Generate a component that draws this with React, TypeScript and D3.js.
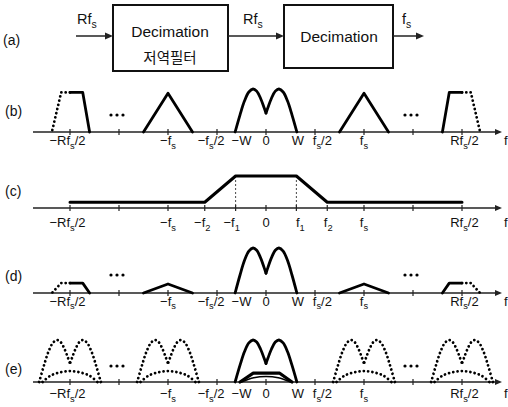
import React from "react";
import * as d3 from "d3";

// ---------- data (frequency in units of fs/2, amplitude relative) ----------
const axisTicks = [-4, -3, -2, -1, 0, 1, 2, 3, 4];
const labelPosMain = [-4.05, -2, -1.12, -0.5, 0, 0.65, 1.15, 2, 4.05];
const labelTextMain = ["−Rf_s/2", "−f_s", "−f_s/2", "−W", "0", "W", "f_s/2", "f_s", "Rf_s/2"];

const ticksC = [-4, -3, -2, -1.25, -0.62, 0, 0.62, 1.25, 2, 3, 4];
const labelPosC = [-4.05, -2, -1.3, -0.7, 0, 0.7, 1.27, 2, 4.05];
const labelTextC = ["−Rf_s/2", "−f_s", "−f_2", "−f_1", "0", "f_1", "f_2", "f_s", "Rf_s/2"];

// M-shaped baseband spectrum (left half, mirrored for right half)
const mHalfU = [-0.63, -0.53, -0.44, -0.35, -0.265, -0.19, -0.11, -0.04, 0];
const mHalfA = [0, 0.4, 0.72, 0.93, 1, 0.95, 0.78, 0.57, 0.44];
// triangle image
const triU = [-0.5, 0, 0.5];
const triA = [0, 1, 0];
// edge image at ±Rfs/2 (offsets from ±4, for the right side)
const edgeSolidU = [-0.4, -0.26, 0];
const edgeSolidA = [0, 1, 1];
const edgeDotU = [0, 0.18, 0.37];
const edgeDotA = [1, 1, 0];
// filter response (c)
const filterF = [-4, -1.25, -0.62, 0.62, 1.25, 4];
const filterA = [0.18, 0.18, 1, 1, 0.18, 0.18];
const cutoffF = [-0.62, 0.62];
// (e) small aliased humps and baseband residues
const smallHumpU = [-0.56, -0.4, -0.2, 0, 0.2, 0.4, 0.56];
const smallHumpA = [0, 0.15, 0.23, 0.26, 0.23, 0.15, 0];
const baseTrapU = [-0.53, -0.26, 0.28, 0.53];
const baseTrapA = [0, 0.21, 0.21, 0];
const baseLensU = [-0.5, -0.25, 0, 0.25, 0.5];
const baseLensA = [0, 0.1, 0.13, 0.1, 0];

const triCentersB = [-2, 2];
const triAmpB = 0.9;
const edgeAmpB = 0.92;
const triAmpD = 0.2;
const edgeAmpD = 0.22;
const aliasCentersE = [-4, -2, 2, 4];
const ellipsisCenters = [-3, 3];

// ---------- layout ----------
const FONT = "'Liberation Sans', Arial, Helvetica, sans-serif";
const x = d3.scaleLinear().domain([-4, 4]).range([70, 462]);
const AX0 = 33;
const AX1 = 502;

type Pt = [number, number];
const zip = (u: number[], a: number[], c = 0, s = 1, amp = 1): Pt[] =>
  u.map((v, i) => [c + s * v, a[i] * amp]);

function Lbl({ x, y, text, size = 13, anchor = "middle", weight = "normal" }: any) {
  const parts: { t: string; sub: boolean }[] = [];
  let buf = "";
  for (let i = 0; i < text.length; i++) {
    if (text[i] === "_" && i + 1 < text.length) {
      if (buf) parts.push({ t: buf, sub: false });
      buf = "";
      parts.push({ t: text[i + 1], sub: true });
      i++;
    } else buf += text[i];
  }
  if (buf) parts.push({ t: buf, sub: false });
  const sh = size * 0.28;
  let prevSub = false;
  return (
    <text x={x} y={y} textAnchor={anchor} fontSize={size} fontFamily={FONT} fontWeight={weight} fill="#111">
      {parts.map((p, i) => {
        let dy = 0;
        if (p.sub && !prevSub) dy = sh;
        if (!p.sub && prevSub) dy = -sh;
        prevSub = p.sub;
        return (
          <tspan key={i} dy={dy} fontSize={p.sub ? size * 0.72 : size}>
            {p.t}
          </tspan>
        );
      })}
    </text>
  );
}

function Panel({ axisY, ticks, children, labelPos, labelText, labelDy, name, nameY }: any) {
  return (
    <g>
      <line x1={AX0} x2={AX1 - 5} y1={axisY} y2={axisY} stroke="#222" strokeWidth={1.3} />
      <path d={`M${AX1},${axisY} L${AX1 - 7},${axisY - 3} L${AX1 - 7},${axisY + 3} Z`} fill="#222" />
      {ticks.map((t: number, i: number) => (
        <line key={i} x1={x(t)} x2={x(t)} y1={axisY - 3} y2={axisY + 3} stroke="#222" strokeWidth={1.2} />
      ))}
      {labelPos.map((p: number, i: number) => (
        <Lbl key={i} x={x(p)} y={axisY + labelDy} text={labelText[i]} />
      ))}
      <Lbl x={AX1 + 2} y={axisY + labelDy} text="f" anchor="start" />
      <text x={5} y={nameY} fontSize={14} fontFamily={FONT} fill="#111">
        {name}
      </text>
      {children}
    </g>
  );
}

const solid = { fill: "none", stroke: "#000", strokeWidth: 2.8, strokeLinejoin: "round" as const, strokeLinecap: "round" as const };
const dotted = { fill: "none", stroke: "#000", strokeWidth: 2.8, strokeDasharray: "0.01 4.3", strokeLinecap: "round" as const };

function mkLine(axisY: number, amp: number, curve: any = d3.curveLinear) {
  const y = d3.scaleLinear().domain([0, 1]).range([axisY, axisY - amp]);
  return d3
    .line<Pt>()
    .x((d) => x(d[0]))
    .y((d) => y(d[1]))
    .curve(curve);
}

function MShape({ c, axisY, amp, style, scale = 1 }: any) {
  const l = mkLine(axisY, amp, d3.curveCatmullRom.alpha(0.5));
  return (
    <g>
      <path d={l(zip(mHalfU, mHalfA, c, 1, scale)) || ""} {...style} />
      <path d={l(zip(mHalfU, mHalfA, c, -1, scale)) || ""} {...style} />
    </g>
  );
}

function Edges({ axisY, amp, a }: any) {
  const l = mkLine(axisY, amp);
  return (
    <g>
      {[1, -1].map((s) => (
        <g key={s}>
          <path d={l(zip(edgeSolidU, edgeSolidA, 4 * s, s, a)) || ""} {...solid} />
          <path d={l(zip(edgeDotU, edgeDotA, 4 * s, s, a)) || ""} {...dotted} />
        </g>
      ))}
    </g>
  );
}

function Ellipsis({ axisY, off }: any) {
  return (
    <g>
      {ellipsisCenters.map((c) =>
        [-6, 0, 6].map((d) => <circle key={`${c}${d}`} cx={x(c) - 2 + d} cy={axisY - off} r={1.6} fill="#000" />)
      )}
    </g>
  );
}

function Arrow({ x1, x2, y }: any) {
  return (
    <g>
      <line x1={x1} x2={x2 - 6} y1={y} y2={y} stroke="#222" strokeWidth={1.5} />
      <path d={`M${x2},${y} L${x2 - 8},${y - 3.5} L${x2 - 8},${y + 3.5} Z`} fill="#222" />
    </g>
  );
}

export default function App() {
  const bY = 132, bA = 43;
  const cY = 208, cA = 32;
  const dY = 293, dA = 45;
  const eY = 382, eA = 42;
  const lb = mkLine(bY, bA);
  const lc = mkLine(cY, cA);
  const ld = mkLine(dY, dA);
  const le = mkLine(eY, eA);
  const leC = mkLine(eY, eA, d3.curveCatmullRom.alpha(0.5));
  const yc = d3.scaleLinear().domain([0, 1]).range([cY, cY - cA]);

  return (
    <svg width={508} height={407} viewBox="0 0 508 407" style={{ position: "absolute", left: 0, top: 0, background: "#fff" }}>
      <rect x={0} y={0} width={508} height={407} fill="#fff" />
      {/* (a) block diagram */}
      <text x={3} y={45} fontSize={14} fontFamily={FONT} fill="#111">(a)</text>
      <rect x={113} y={5} width={115} height={66} fill="none" stroke="#111" strokeWidth={2} />
      <rect x={284} y={5} width={109} height={63} fill="none" stroke="#111" strokeWidth={2} />
      <Arrow x1={76} x2={113} y={36} />
      <Arrow x1={228} x2={284} y={36} />
      <Arrow x1={393} x2={424} y={36} />
      <Lbl x={77} y={24} text="Rf_s" size={14.5} anchor="start" />
      <Lbl x={243} y={24} text="Rf_s" size={14.5} anchor="start" />
      <Lbl x={402} y={24} text="f_s" size={14.5} anchor="start" />
      <text x={170} y={37} textAnchor="middle" fontSize={15.5} fontFamily={FONT} fill="#111">Decimation</text>
      <text x={170} y={63} textAnchor="middle" fontSize={14.5} fontFamily="'Noto Sans CJK KR', sans-serif" fill="#111">저역필터</text>
      <text x={339} y={42} textAnchor="middle" fontSize={15.5} fontFamily={FONT} fill="#111">Decimation</text>

      {/* (b) */}
      <Panel axisY={bY} ticks={axisTicks} labelPos={labelPosMain} labelText={labelTextMain} labelDy={13} name="(b)" nameY={116}>
        <MShape c={0} axisY={bY} amp={bA} style={solid} />
        {triCentersB.map((c) => (
          <path key={c} d={lb(zip(triU, triA, c, 1, triAmpB)) || ""} {...solid} />
        ))}
        <Edges axisY={bY} amp={bA} a={edgeAmpB} />
        <Ellipsis axisY={bY} off={17} />
      </Panel>

      {/* (c) */}
      <Panel axisY={cY} ticks={ticksC} labelPos={labelPosC} labelText={labelTextC} labelDy={19} name="(c)" nameY={196}>
        {cutoffF.map((f) => (
          <line key={f} x1={x(f)} x2={x(f)} y1={yc(1)} y2={cY} stroke="#333" strokeWidth={0.9} strokeDasharray="2 2" />
        ))}
        <path d={lc(filterF.map((f, i) => [f, filterA[i]] as Pt)) || ""} {...solid} strokeWidth={3} />
      </Panel>

      {/* (d) */}
      <Panel axisY={dY} ticks={axisTicks} labelPos={labelPosMain} labelText={labelTextMain} labelDy={12.5} name="(d)" nameY={281}>
        <MShape c={0} axisY={dY} amp={dA} style={solid} />
        {triCentersB.map((c) => (
          <path key={c} d={ld(zip(triU, triA, c, 1, triAmpD)) || ""} {...solid} />
        ))}
        <Edges axisY={dY} amp={dA} a={edgeAmpD} />
        <Ellipsis axisY={dY} off={18} />
      </Panel>

      {/* (e) */}
      <Panel axisY={eY} ticks={axisTicks} labelPos={labelPosMain} labelText={labelTextMain} labelDy={16} name="(e)" nameY={374}>
        <MShape c={0} axisY={eY} amp={eA} style={solid} />
        {aliasCentersE.map((c) => (
          <g key={c}>
            <MShape c={c} axisY={eY} amp={eA} style={dotted} />
            <path d={leC(zip(smallHumpU, smallHumpA, c)) || ""} {...dotted} />
          </g>
        ))}
        <path d={le(zip(baseTrapU, baseTrapA)) || ""} {...solid} strokeWidth={3.2} />
        <path d={leC(zip(baseLensU, baseLensA)) || ""} {...solid} strokeWidth={1.6} />
        <Ellipsis axisY={eY} off={16} />
      </Panel>
    </svg>
  );
}
